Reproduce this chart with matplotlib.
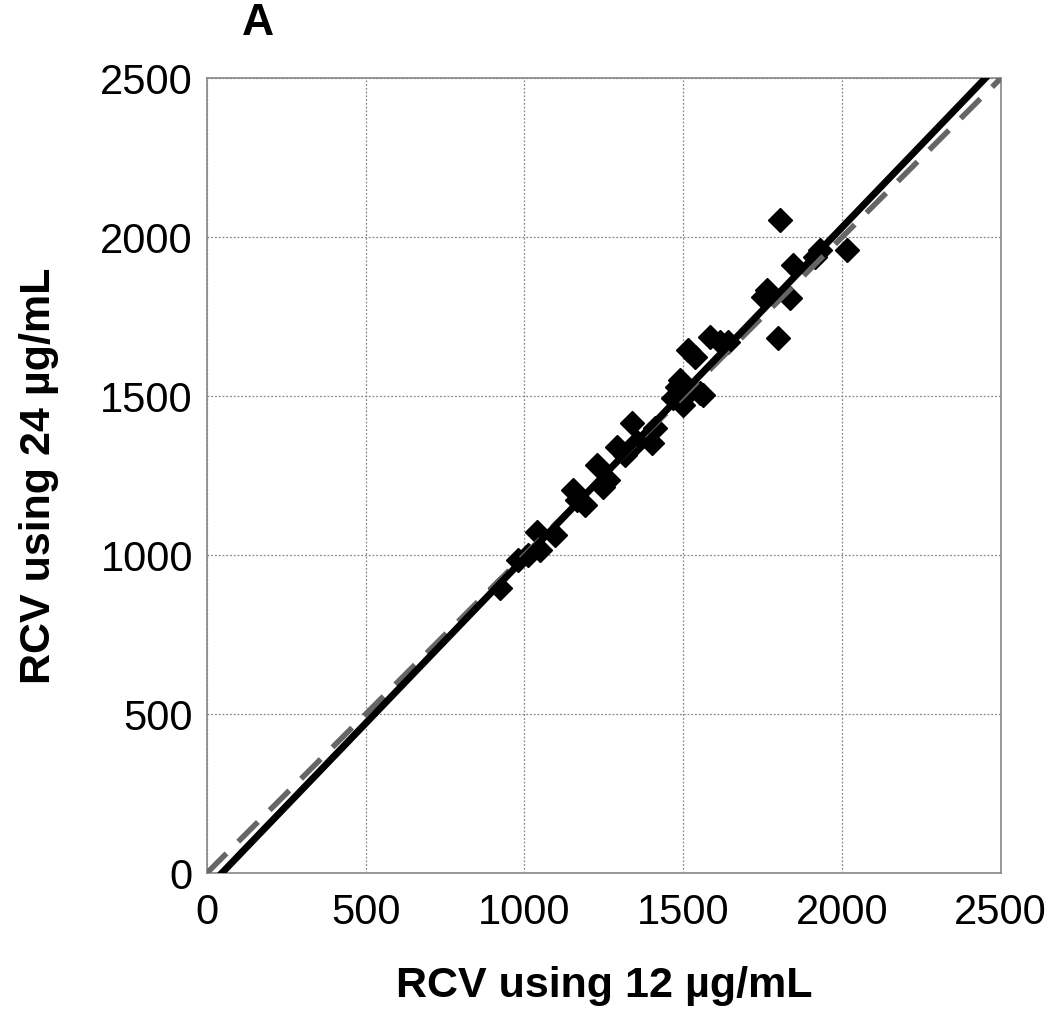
import numpy as np
import matplotlib
matplotlib.use("Agg")
import matplotlib.pyplot as plt

plt.rcParams['font.family'] = ['Liberation Sans', 'DejaVu Sans']

# RCV values
rcv_12 = [923, 979, 1011, 1039, 1048, 1096, 1152, 1165, 1190, 1228, 1247, 1263,
          1291, 1316, 1338, 1354, 1401, 1411, 1467, 1480, 1490, 1499, 1499, 1515,
          1537, 1552, 1562, 1584, 1615, 1640, 1750, 1763, 1798, 1804, 1836, 1845,
          1915, 1930, 2015]
rcv_24 = [897, 984, 1000, 1072, 1016, 1063, 1204, 1173, 1157, 1283, 1214, 1236,
          1340, 1315, 1415, 1355, 1352, 1400, 1494, 1528, 1550, 1494, 1472, 1645,
          1623, 1510, 1503, 1686, 1670, 1670, 1811, 1834, 1683, 2054, 1808, 1912,
          1937, 1959, 1959]

# regression line and identity line
fit_slope = 1.040
fit_intercept = -49
ticks = [0, 500, 1000, 1500, 2000, 2500]

fig = plt.figure(figsize=(10.5, 10.32), dpi=100)
ax = fig.add_axes([0.197, 0.154, 0.756, 0.770])

xx = np.array([0, 2600])
ax.plot(xx, xx, color='#666666', lw=4, dashes=(5, 3), zorder=3)
xf = np.array([(0 - fit_intercept) / fit_slope, (2500 - fit_intercept) / fit_slope])
ax.plot(xf, fit_slope * xf + fit_intercept, color='black', lw=5, zorder=4)
ax.plot(rcv_12, rcv_24, 'D', color='black', markersize=12, zorder=2)

ax.set_xlim(0, 2500)
ax.set_ylim(0, 2500)
ax.set_xticks(ticks)
ax.set_yticks(ticks)
ax.tick_params(length=0, labelsize=30)
ax.tick_params(axis='y', pad=10)
ax.tick_params(axis='x', pad=14)
ax.grid(True, color='#888888', linestyle=(0, (1.5, 1.5)), lw=0.9)
for s in ax.spines.values():
    s.set_color('#888888')
    s.set_linewidth(1.2)

ax.set_xlabel('RCV using 12 µg/mL', fontsize=31, fontweight='bold', labelpad=24)
ax.set_ylabel('RCV using 24 µg/mL', fontsize=31, fontweight='bold', labelpad=30)
fig.text(0.246, 0.977, 'A', fontsize=32, fontweight='bold', ha='center', va='center')

fig.savefig('out.png', dpi=100)
